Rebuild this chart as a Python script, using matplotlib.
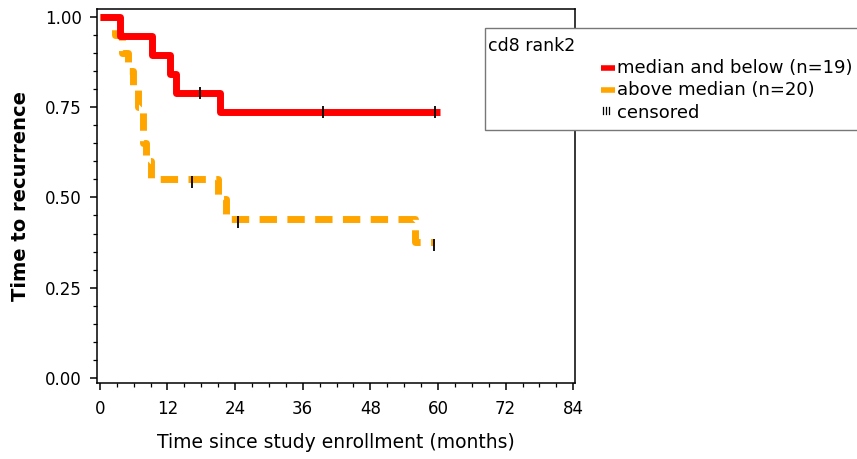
import numpy as np
import matplotlib.pyplot as plt
from matplotlib.patches import Rectangle
from matplotlib.lines import Line2D

# Kaplan-Meier steps (months, survival)
red_t = [0, 3.5, 9.2, 12.4, 13.5, 21.3, 60.4]
red_s = [1.0, 0.947, 0.895, 0.842, 0.789, 0.737, 0.737]
red_cens = [17.8, 39.6, 59.5]

org_t = [0, 2.7, 3.9, 5.0, 5.9, 6.7, 7.6, 7.7, 8.2, 9.0, 21.0, 22.3, 55.9, 59.3]
org_s = [1.0, 0.95, 0.90, 0.85, 0.80, 0.75, 0.70, 0.65, 0.60, 0.55, 0.495, 0.44, 0.377, 0.377]
org_cens = [16.3, 24.5, 59.3]

x_ticks = [0, 12, 24, 36, 48, 60, 72, 84]
y_ticks = [0.0, 0.25, 0.5, 0.75, 1.0]

legend_title = "cd8 rank2"
legend_labels = ["median and below (n=19)", "above median (n=20)", "censored"]


def surv_at(t, times, surv):
    # value of a right-continuous step function
    idx = np.searchsorted(times, t, side="right") - 1
    return np.asarray(surv)[idx]


fig = plt.figure(figsize=(8.57, 4.59), dpi=100)
ax = fig.add_axes([97 / 857, 1 - 383 / 459, (575 - 97) / 857, (383 - 9) / 459])

ax.step(red_t, red_s, where="post", color="#ff0000", lw=5, solid_capstyle="butt", zorder=3)
ax.step(org_t, org_s, where="post", color="#ffa500", lw=5,
        linestyle=(0, (2.5, 1.5)), dash_capstyle="butt", zorder=2)

ax.plot(red_cens, surv_at(red_cens, red_t, red_s), ls="none", marker="|",
        ms=9, mew=1.3, color="black", zorder=4)
ax.plot(org_cens, surv_at(org_cens, org_t, org_s) - 0.008, ls="none", marker="|",
        ms=9, mew=1.3, color="black", zorder=4)

ax.set_xlim(-0.5, 84.3)
ax.set_ylim(-0.014, 1.022)
ax.set_xticks(x_ticks)
ax.set_xticklabels([str(v) for v in x_ticks])
ax.set_xticks(np.arange(0, 85, 3), minor=True)
ax.set_yticks(y_ticks)
ax.set_yticklabels(["%.2f" % v for v in y_ticks])
ax.set_yticks(np.arange(0, 1.001, 0.05), minor=True)
ax.tick_params(which="major", direction="out", length=5, width=1.1, labelsize=12)
ax.tick_params(axis="x", which="major", pad=7)
ax.tick_params(axis="y", which="major", pad=6)
ax.tick_params(which="minor", direction="out", length=3, width=0.9)
for sp in ax.spines.values():
    sp.set_linewidth(1.1)

ax.set_xlabel("Time since study enrollment (months)", fontsize=13.5, labelpad=11)
ax.set_ylabel("Time to recurrence", fontsize=14, fontweight="bold", labelpad=11)

# legend box drawn by hand (it sits over the right spine)
box = Rectangle((485 / 857, 1 - 130 / 459), 0.5, (130 - 28) / 459,
                transform=fig.transFigure, facecolor="white",
                edgecolor="#777777", lw=1.0, zorder=10)
fig.add_artist(box)
fig.text(488 / 857, 1 - 46 / 459, legend_title, fontsize=12.5,
         va="center", ha="left", zorder=11)

ys = [68, 90, 113]
cols = ["#ff0000", "#ffa500"]
for i in range(2):
    y = 1 - ys[i] / 459
    fig.add_artist(Line2D([601 / 857, 615 / 857], [y, y], transform=fig.transFigure,
                          color=cols[i], lw=4, zorder=11, solid_capstyle="butt"))
    fig.text(617 / 857, y, legend_labels[i], fontsize=13, va="center", ha="left", zorder=11)
yc = 1 - ys[2] / 459
for dx in [603, 606, 609]:
    fig.add_artist(Line2D([dx / 857, dx / 857], [yc - 0.002, yc + 0.014], transform=fig.transFigure,
                          color="black", lw=0.9, zorder=11))
fig.text(617 / 857, yc, legend_labels[2], fontsize=13, va="center", ha="left", zorder=11)

fig.savefig("out.png", dpi=100)
